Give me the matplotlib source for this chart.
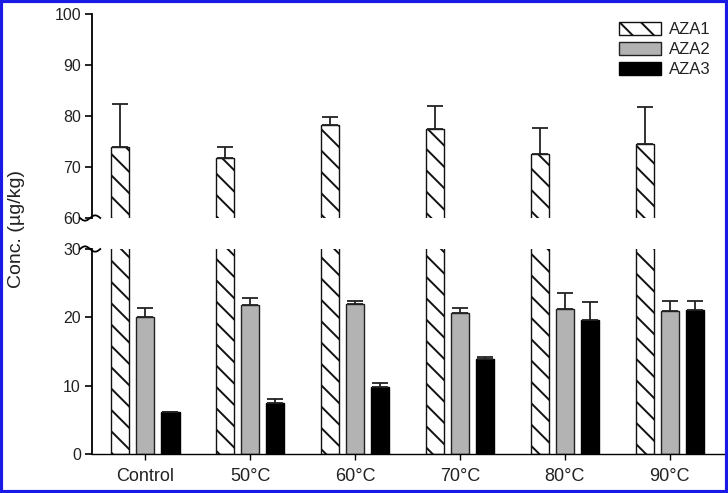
import matplotlib
matplotlib.use("Agg")
import matplotlib.pyplot as plt
import numpy as np
from matplotlib.patches import Rectangle

# data
categories = ['Control', '50°C', '60°C', '70°C', '80°C', '90°C']
aza1 = [74.0, 71.8, 78.3, 77.4, 72.6, 74.6]
aza1_err = [8.3, 2.1, 1.5, 4.6, 5.0, 7.1]
aza2 = [20.1, 21.8, 22.0, 20.7, 21.2, 20.9]
aza2_err = [1.2, 1.0, 0.4, 0.6, 2.4, 1.5]
aza3 = [6.2, 7.5, 9.8, 13.9, 19.6, 21.1]
aza3_err = [0.0, 0.6, 0.6, 0.3, 2.6, 1.3]

# render at a higher dpi so the hatch spacing matches; k rescales point sizes
DPI = 128
k = 100 / DPI

plt.rcParams['font.family'] = ['Liberation Sans', 'DejaVu Sans']
plt.rcParams['hatch.linewidth'] = 1.4 * k

txt = '#222222'
x = np.arange(len(categories))
w = 0.172
off = 0.24

fig = plt.figure(figsize=(728 / DPI, 493 / DPI), dpi=DPI)
ax_top = fig.add_axes([0.1264, 0.5578, 0.8695, 0.4138])
ax_bot = fig.add_axes([0.1264, 0.0791, 0.8695, 0.4158])

ekw = dict(ecolor='#222222', elinewidth=1.3 * k, capsize=6 * k, capthick=1.3 * k)
for ax in (ax_top, ax_bot):
    ax.bar(x - off, aza1, w, yerr=[np.zeros(6), aza1_err], color='white', edgecolor='#111111',
           hatch='\\\\', linewidth=1.0 * k, label='AZA1', error_kw=ekw)
    ax.bar(x, aza2, w, yerr=[np.zeros(6), aza2_err], color='#b3b3b3', edgecolor='#222222',
           linewidth=1.0 * k, label='AZA2', error_kw=ekw)
    ax.bar(x + off, aza3, w, yerr=[np.zeros(6), aza3_err], color='black', edgecolor='black',
           linewidth=1.0 * k, label='AZA3', error_kw=ekw)
    ax.set_xlim(-0.508, 5.526)
    ax.spines['top'].set_visible(False)
    ax.spines['right'].set_visible(False)
    ax.spines['left'].set_linewidth(1.3 * k)
    ax.tick_params(axis='y', direction='out', length=5 * k, width=1.2 * k, labelsize=11.5 * k,
                   labelcolor=txt, pad=3 * k)

ax_top.set_ylim(60, 100)
ax_top.set_yticks([60, 70, 80, 90, 100])
ax_top.spines['bottom'].set_visible(False)
ax_top.set_xticks([])

ax_bot.set_ylim(0, 30)
ax_bot.set_yticks([0, 10, 20, 30])
ax_bot.set_xticks(x)
ax_bot.set_xticklabels(categories)
ax_bot.spines['bottom'].set_linewidth(1.0 * k)
ax_bot.tick_params(axis='x', direction='out', length=4 * k, width=1.0 * k, labelsize=13 * k,
                   labelcolor=txt, pad=6 * k)

# axis break marks
t = np.linspace(0, 1, 30)
bx = -0.019 + 0.032 * t
ax_top.plot(bx, 0.013 * np.sin(2 * np.pi * t - np.pi), color='black', lw=1.3 * k,
            transform=ax_top.transAxes, clip_on=False)
ax_bot.plot(bx, 1 + 0.013 * np.sin(2 * np.pi * t), color='black', lw=1.3 * k,
            transform=ax_bot.transAxes, clip_on=False)

fig.text(0.022, 0.535, 'Conc. (µg/kg)', rotation=90, ha='center', va='center',
         fontsize=14 * k, color=txt)

ax_top.legend(loc='upper right', bbox_to_anchor=(0.997, 0.985), bbox_transform=fig.transFigure,
              frameon=False, fontsize=12 * k, handlelength=2.5, handleheight=0.75,
              labelspacing=0.3, handletextpad=0.5, labelcolor=txt)

# blue frame around the picture
fig.patches.append(Rectangle((0.002, 0.003), 0.996, 0.994, transform=fig.transFigure,
                             fill=False, edgecolor='#1a1ae6', linewidth=3 * k))

fig.savefig('out.png', dpi=DPI)
